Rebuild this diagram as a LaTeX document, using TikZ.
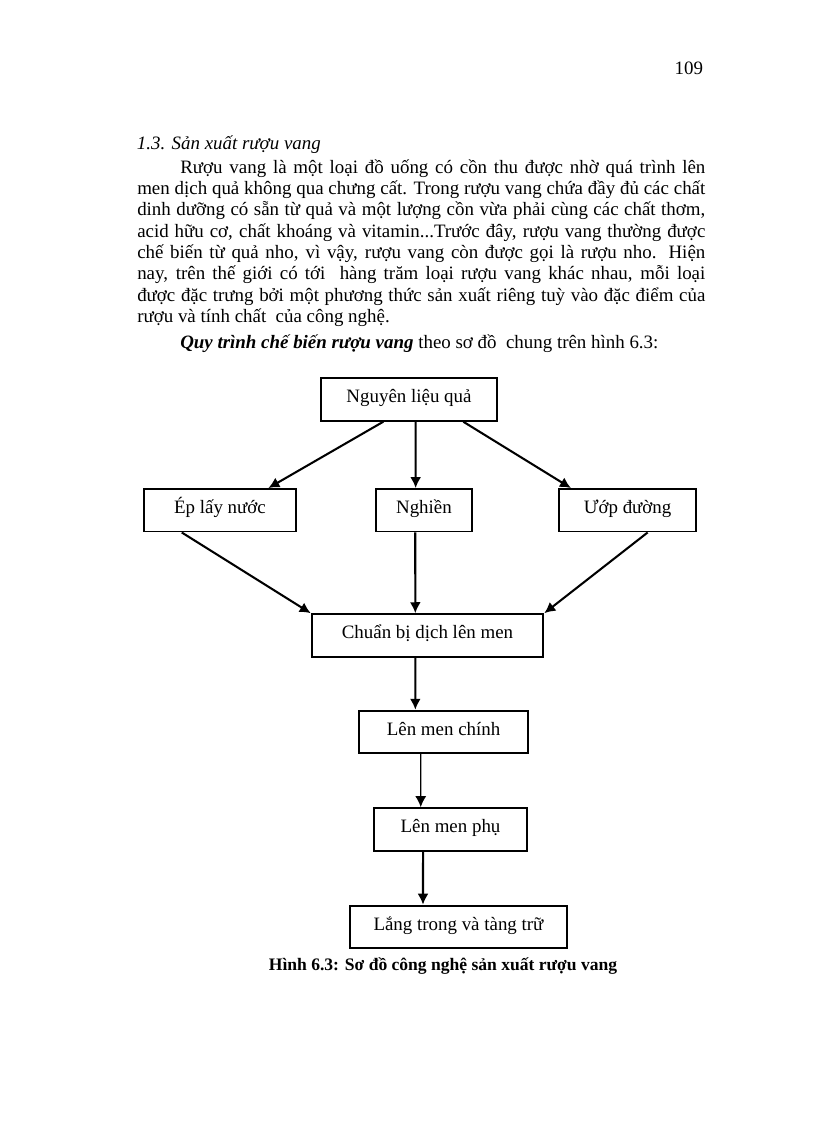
\documentclass[tikz,border=0pt]{standalone}
\usepackage{fontspec}
\setmainfont{Liberation Serif}
\usetikzlibrary{arrows.meta,
                positioning}
\tikzset{stepbox/.style =
   {rectangle,
    draw,
    line width=1.4pt,
    text centered,
    font=\fontsize{13.8}{15.5}\selectfont,
    text height=8pt,
    text depth=3pt,
    minimum height=31pt}}
\tikzset{pagetext/.style =
   {inner sep=0pt,
    font=\fontsize{13.8}{15.55}\selectfont}}
\tikzset{arrow/.style = {draw, line width=1.5pt, -{Latex[length=8pt,width=8pt]}}}

\begin{document}
\begin{tikzpicture}[x=0.7295pt, y=-0.7295pt]
        \useasboundingbox (0,0) rectangle (816,1123);

        % page text
        \node [pagetext, anchor=base east] (pageno) at (703.3,74.3) {109};

        \node [pagetext, anchor=base west] (heading) at (136.7,149)
              {\itshape 1.3. Sản xuất rượu vang};

        \node [pagetext,
               anchor=base west,
               text width=414.4pt,
               align=justify] (para) at (137,173.3)
              {\hspace*{31.4pt}Rượu vang là một loại đồ uống có cồn thu được nhờ quá trình lên\linebreak
               men dịch quả không qua chưng cất. Trong rượu vang chứa đầy đủ các chất\linebreak
               dinh dưỡng có sẵn từ quả và một lượng cồn vừa phải cùng các chất thơm,\linebreak
               acid hữu cơ, chất khoáng và vitamin...Trước đây, rượu vang thường được\linebreak
               chế biến từ quả nho, vì vậy, rượu vang còn được gọi là rượu nho. Hiện\linebreak
               nay, trên thế giới có tới\ \ hàng trăm loại rượu vang khác nhau, mỗi loại\linebreak
               được đặc trưng bởi một phương thức sản xuất riêng tuỳ vào đặc điểm của\linebreak
               rượu và tính chất\ \ của công nghệ.};

        \node [pagetext, anchor=base west] (intro) at (180,348.3)
              {\textbf{\textit{Quy trình chế biến rượu vang}} theo sơ đồ\ \ chung trên hình 6.3:};

        % flow chart
        \node [stepbox, minimum width=128.8pt] (nguyenlieu) at (409,399.5) {Nguyên liệu quả};

        \node [stepbox, minimum width=110.7pt,
               below of = nguyenlieu,
               node distance = 80.8pt,
               xshift = -137.9pt] (eplay) {Ép lấy nước};

        \node [stepbox, minimum width=70.5pt,
               below of = nguyenlieu,
               node distance = 80.8pt,
               xshift = 10.9pt] (nghien) {Nghiền};

        \node [stepbox, minimum width=99.7pt,
               below of = nguyenlieu,
               node distance = 80.8pt,
               xshift = 159.5pt] (uopduong) {Ướp đường};

        \node [stepbox, minimum width=169pt,
               below of = nghien,
               node distance = 91.3pt,
               xshift = 2.6pt] (chuanbi) {Chuẩn bị dịch lên men};

        \node [stepbox, minimum width=123.3pt,
               below of = chuanbi,
               node distance = 70.4pt,
               xshift = 11.7pt] (menchinh) {Lên men chính};

        \node [stepbox, minimum width=111.6pt,
               below of = menchinh,
               node distance = 71.1pt,
               xshift = 5.1pt] (menphu) {Lên men phụ};

        \node [stepbox, minimum width=158.3pt,
               below of = menphu,
               node distance = 71.1pt,
               xshift = 5.8pt] (langtrong) {Lắng trong và tàng trữ};

        \draw [arrow] ([shift={(-25.7,0)}]nguyenlieu.south) -- ([shift={(48.4,0)}]eplay.north);
        \draw [arrow] ([shift={(6.7,0)}]nguyenlieu.south) -- ([shift={(-8.3,0)}]nghien.north);
        \draw [arrow] ([shift={(54.3,0)}]nguyenlieu.south) -- ([shift={(-56.7,0)}]uopduong.north);

        \draw [arrow] ([shift={(-38.2,0)}]eplay.south) -- (chuanbi.north west);
        \draw [arrow] ([shift={(-8.7,0)}]nghien.south) -- ([shift={(-12.2,0)}]chuanbi.north);
        \draw [arrow] ([shift={(20,0)}]uopduong.south) -- (chuanbi.north east);

        \draw [arrow] ([shift={(-12.2,0)}]chuanbi.south) -- ([shift={(-28.2,0)}]menchinh.north);
        \draw [arrow, line width=1pt] ([shift={(-22.8,0)}]menchinh.south) -- ([shift={(-29.8,0)}]menphu.north);
        \draw [arrow] ([shift={(-27.5,0)}]menphu.south) -- ([shift={(-35.5,0)}]langtrong.north);

        \node [inner sep=0pt,
               anchor=base,
               font=\bfseries\fontsize{12.8}{15}\selectfont] (caption) at (443,970)
              {Hình 6.3: Sơ đồ công nghệ sản xuất rượu vang};

\end{tikzpicture}
\end{document}
